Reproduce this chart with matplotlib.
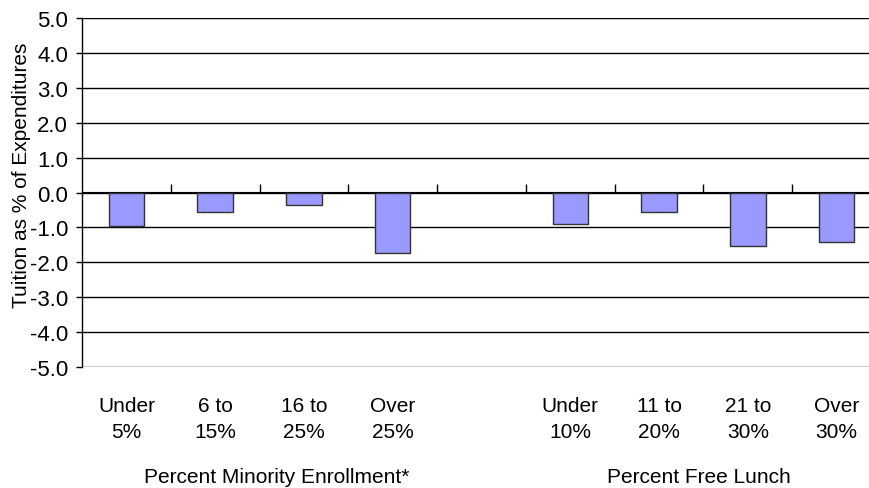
import numpy as np
import matplotlib
matplotlib.use("Agg")
import matplotlib.pyplot as plt
from matplotlib.transforms import blended_transform_factory

plt.rcParams["font.family"] = ["Liberation Sans", "DejaVu Sans"]

# Tuition as a share of expenditures, by school characteristic
minority_labels = ["Under\n5%", "6 to\n15%", "16 to\n25%", "Over\n25%"]
minority_values = [-0.97, -0.56, -0.35, -1.72]
lunch_labels = ["Under\n10%", "11 to\n20%", "21 to\n30%", "Over\n30%"]
lunch_values = [-0.89, -0.55, -1.54, -1.42]
group_titles = ["Percent Minority Enrollment*", "Percent Free Lunch"]
y_ticks = np.arange(-5, 6, 1)

FS = 15

fig = plt.figure(figsize=(8.69, 4.89), dpi=100)
ax = fig.add_axes([82 / 869, 121 / 489, (881 - 82) / 869, 349 / 489])

x_min = np.arange(len(minority_values))
x_lunch = np.arange(len(lunch_values)) + len(minority_values) + 1

bar_kw = dict(width=0.4, color="#9999FF", edgecolor="#333333", linewidth=1.0, zorder=3)
ax.bar(x_min, minority_values, **bar_kw)
ax.bar(x_lunch, lunch_values, **bar_kw)

ax.set_xlim(-0.5, len(minority_values) + len(lunch_values) + 0.5)
ax.set_ylim(-5, 5)
ax.set_yticks(y_ticks)
ax.set_yticklabels([f"{v:.1f}" for v in y_ticks], fontsize=16)
ax.yaxis.grid(True, color="black", linewidth=1.0, zorder=0)
ax.tick_params(axis="y", length=4, width=1, pad=6)

ax.set_xticks(np.concatenate([x_min, x_lunch]))
ax.set_xticklabels(minority_labels + lunch_labels, fontsize=FS, linespacing=1.45)
ax.tick_params(axis="x", length=0, pad=21)

for side in ["top", "right", "bottom"]:
    ax.spines[side].set_visible(False)
ax.spines["left"].set_linewidth(1.0)

# category divider ticks hanging below the zero line
zero_axis = ax.secondary_xaxis(0.5)
zero_axis.set_xticks(np.arange(0.5, len(minority_values) + len(lunch_values), 1.0))
zero_axis.set_xticklabels([])
zero_axis.tick_params(length=6, width=1, direction="out")
zero_axis.spines["bottom"].set_visible(False)

ax.set_ylabel("Tuition as % of Expenditures", fontsize=FS)
ax.yaxis.set_label_coords(-0.064, 0.553)

trans = blended_transform_factory(ax.transData, fig.transFigure)
for xpos, title in zip([1.69, 6.45], group_titles):
    ax.text(xpos, 21 / 489, title, transform=trans, ha="center", va="top",
            fontsize=FS, clip_on=False)

fig.savefig("out.png", dpi=100)
